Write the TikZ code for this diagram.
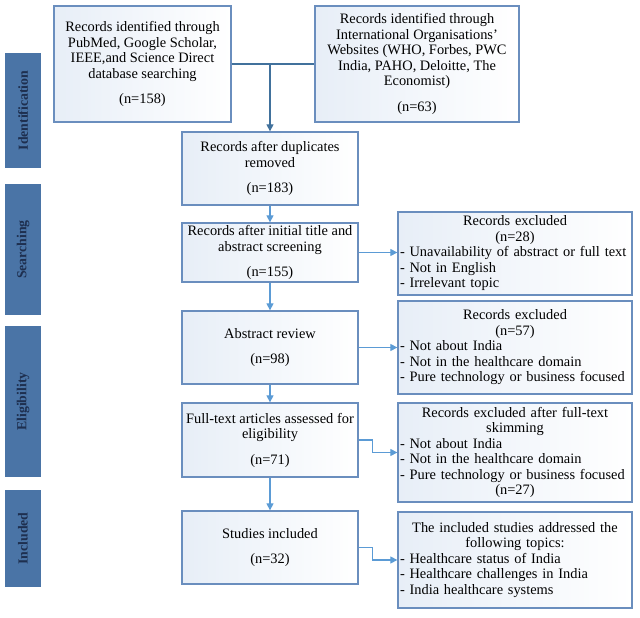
\documentclass[tikz,border=0pt]{standalone}
\usepackage{fontspec}
\setmainfont{Liberation Serif}
\usetikzlibrary{arrows.meta}
\definecolor{boxline}{HTML}{6A8EBE}
\definecolor{boxfill}{HTML}{E7EEF7}
\definecolor{stagefill}{HTML}{4A74A6}
\definecolor{stagetext}{HTML}{1E2F4F}
\definecolor{linkblue}{HTML}{5B9BD5}
\definecolor{mainlink}{HTML}{41719C}
\tikzset{
  box/.style={draw=boxline, line width=1.3pt, left color=boxfill, right color=white,
    inner sep=2pt, font=\fontsize{14.4}{15.5}\selectfont},
  stage/.style={fill=stagefill, rotate=90, minimum height=36pt, inner sep=0pt,
    text=stagetext, font=\fontsize{13.8}{15}\selectfont\bfseries},
  link/.style={draw=linkblue, line width=1.2pt, -{Triangle[length=7pt,width=7pt]}},
  mainlink/.style={draw=mainlink, line width=1.2pt}
}
\begin{document}
\begin{tikzpicture}[x=1pt,y=-1pt]
\useasboundingbox (0,0) rectangle (640,618);
% stages
\node[stage, minimum width=115pt] (sid) at (23,110.5) {Identification};
\node[stage, minimum width=131pt] (ssearch) at (23,249.5) {Searching};
\node[stage, minimum width=151pt] (selig) at (23,401.5) {Eligibility};
\node[stage, minimum width=97pt] (sincl) at (23,538.5) {Included};
% main column
\node[box, align=center, minimum width=177pt, minimum height=116pt] (src1) at (142.5,64)
  {Records identified through\\PubMed, Google Scholar,\\IEEE,and Science Direct\\database searching\\[10pt](n=158)};
\node[box, align=center, minimum width=204pt, minimum height=116pt] (src2) at (417,64)
  {Records identified through\\International Organisations'\\Websites (WHO, Forbes, PWC\\India, PAHO, Deloitte, The\\Economist)\\[10pt](n=63)};
\node[box, align=center, minimum width=176pt, minimum height=73pt] (dup) at (270,168.5)
  {Records after duplicates\\removed\\[10pt](n=183)};
\node[box, align=center, minimum width=176pt, minimum height=59pt] (screen) at (270,252.5)
  {Records after initial title and\\abstract screening\\[10pt](n=155)};
\node[box, align=center, minimum width=176pt, minimum height=73pt] (abs) at (270,347.5)
  {Abstract review\\[10pt](n=98)};
\node[box, align=center, minimum width=176pt, minimum height=74pt] (full) at (270,440)
  {Full-text articles assessed for\\eligibility\\[10pt](n=71)};
\node[box, align=center, minimum width=176pt, minimum height=73pt] (incl) at (270,547.5)
  {Studies included\\[10pt](n=32)};
% side column
\node[box, text width=230pt, minimum height=83pt] (ex1) at (515,253.5)
  {{\centering Records excluded\\(n=28)\par}\raggedright
   - Unavailability of abstract or full text\\- Not in English\\- Irrelevant topic};
\node[box, text width=230pt, minimum height=93pt] (ex2) at (515,347.5)
  {{\centering Records excluded\\(n=57)\par}\raggedright
   - Not about India\\- Not in the healthcare domain\\- Pure technology or business focused};
\node[box, text width=230pt, minimum height=99pt] (ex3) at (515,452.5)
  {{\centering Records excluded after full-text\\skimming\par}\raggedright
   - Not about India\\- Not in the healthcare domain\\- Pure technology or business focused\par
   {\centering (n=27)\par}};
\node[box, text width=230pt, minimum height=96pt] (topics) at (515,560)
  {{\centering The included studies addressed the\\following topics:\par}\raggedright
   - Healthcare status of India\\- Healthcare challenges in India\\- India healthcare systems};
% connectors
\draw[mainlink] (src1.east) -- (src2.west);
\draw[mainlink, -{Triangle[length=7pt,width=7pt]}] (src1.east -| dup.north) -- (dup.north);
\draw[link] (dup) -- (screen);
\draw[link] (screen) -- (abs);
\draw[link] (abs) -- (full);
\draw[link] (full) -- (incl);
\draw[link] (screen.east) -- (screen.east -| ex1.west);
\draw[link] (abs.east) -- (ex2.west);
\draw[link] (full.east) -- ++(14,0) |- (ex3.west);
\draw[link] (incl.east) -- ++(14,0) |- (topics.west);
\end{tikzpicture}
\end{document}
